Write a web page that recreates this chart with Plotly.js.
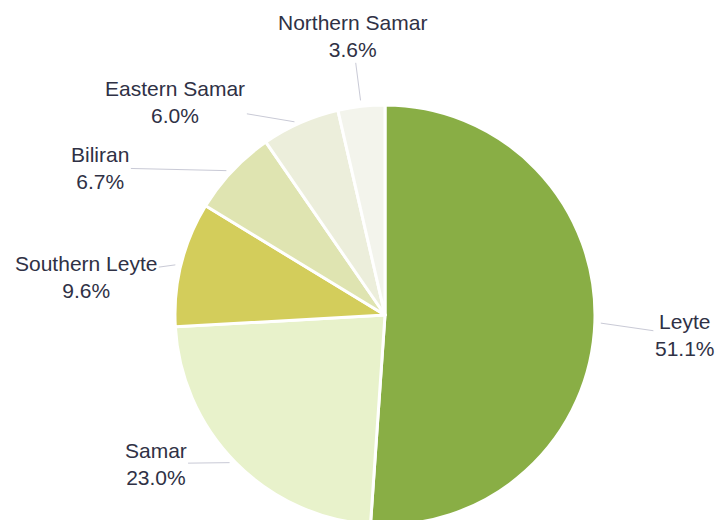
<!DOCTYPE html>
<html>
<head>
<meta charset="utf-8">
<script src="https://cdn.plot.ly/plotly-3.0.1.min.js"></script>
<style>
  body { margin: 0; background: #fff; }
  #chart { width: 720px; height: 540px; }
</style>
</head>
<body>
<div id="chart"></div>
<script>
// share of each province, clockwise from 12 o'clock
const provinces = ["Leyte", "Samar", "Southern Leyte", "Biliran", "Eastern Samar", "Northern Samar"];
const shares = [51.1, 23.0, 9.6, 6.7, 6.0, 3.6];
const colors = ["#89ae45", "#e8f2cb", "#d3cd5b", "#dfe4b1", "#eceedb", "#f3f4ec"];

// where each label sits relative to its slice (pixels)
const labelOffsets = [[90, 13], [-80, 1], [-95, 13], [-132, -3], [-125, -21], [-9, -70]];

const W = 720, H = 540;
const cx = 385, cy = 315, R = 210;

// pie domain from centre and radius
const domain = {
  x: [(cx - R) / W, (cx + R) / W],
  y: [1 - (cy + R) / H, 1 - (cy - R) / H],
};

const total = shares.reduce((s, v) => s + v, 0);
let acc = 0;
const annotations = shares.map((v, i) => {
  const mid = (acc + v / 2) / total * 2 * Math.PI;
  acc += v;
  const px = cx + R * Math.sin(mid);
  const py = cy - R * Math.cos(mid);
  return {
    x: px / W,
    y: 1 - py / H,
    xref: "paper",
    yref: "paper",
    text: `${provinces[i]}<br>${v.toFixed(1)}%`,
    showarrow: true,
    arrowhead: 0,
    arrowwidth: 1,
    arrowcolor: "#c9cad6",
    standoff: 6,
    ax: labelOffsets[i][0],
    ay: labelOffsets[i][1],
    align: "center",
    font: { family: "'Liberation Sans', Arial, sans-serif", size: 21, color: "#2f3145" },
  };
});

const tracePie = {
  type: "pie",
  labels: provinces,
  values: shares,
  sort: false,
  direction: "clockwise",
  rotation: 0,
  textinfo: "none",
  hoverinfo: "label+percent",
  marker: {
    colors: colors,
    line: { color: "#ffffff", width: 3 },
  },
  domain: domain,
};

const layout = {
  width: W,
  height: H,
  margin: { t: 0, b: 0, l: 0, r: 0 },
  paper_bgcolor: "#ffffff",
  showlegend: false,
  annotations: annotations,
};

Plotly.newPlot("chart", [tracePie], layout, { displayModeBar: false, staticPlot: true });
</script>
</body>
</html>
